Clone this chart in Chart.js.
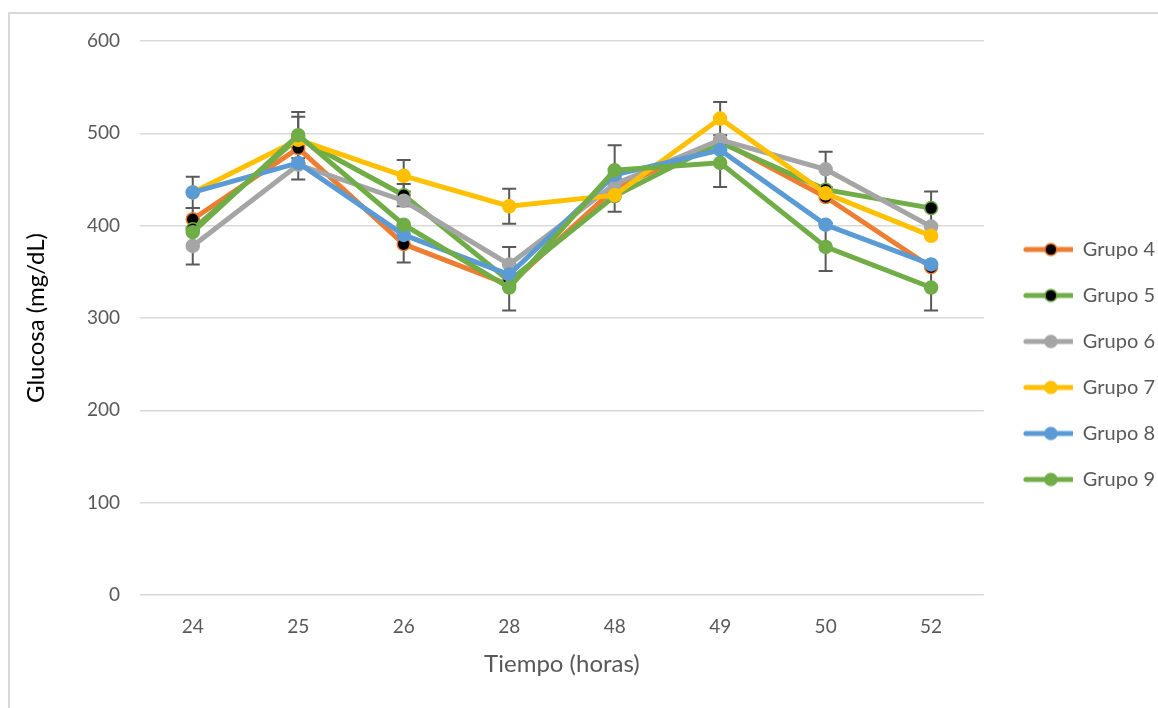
<!DOCTYPE html>
<html>
<head>
<meta charset="utf-8">
<script src="https://cdn.jsdelivr.net/npm/chart.js@4"></script>
<style>
  body { margin: 0; background: #fff; overflow: hidden; }
  #frame { position: absolute; left: 8px; top: 12px; width: 1150px; height: 696px; overflow: hidden;
           border-top: 2px solid #d9d9d9; border-left: 2px solid #d9d9d9; }
  #glucosa { position: absolute; left: 0; top: 0; }
</style>
</head>
<body>
<div id="frame"><canvas id="glucosa" width="1160" height="694"></canvas></div>
<script>
const horas = ["24", "25", "26", "28", "48", "49", "50", "52"];

const grupo4 = [407, 484, 380, 336, 440, 492, 431, 355];
const grupo5 = [396, 495, 433, 340, 432, 490, 439, 419];
const grupo6 = [378, 466, 427, 358, 445, 493, 461, 399];
const grupo7 = [436, 493, 454, 421, 433, 516, 435, 389];
const grupo8 = [436, 468, 390, 347, 455, 482, 401, 358];
const grupo9 = [393, 498, 401, 333, 460, 468, 377, 333];

// desviaciones (0 = sin barra)
const err4 = [12, 0, 20, 0, 0, 0, 0, 0];
const err5 = [0, 0, 12, 0, 0, 0, 0, 18];
const err6 = [20, 0, 0, 19, 0, 0, 19, 0];
const err7 = [0, 25, 17, 19, 18, 18, 0, 0];
const err8 = [17, 18, 0, 0, 0, 0, 0, 0];
const err9 = [0, 25, 0, 25, 27, 26, 26, 25];

const yTicks = [0, 100, 200, 300, 400, 500, 600];

const grey = "#595959";

function legendIcon(color, fill) {
  const c = document.createElement("canvas");
  c.width = 63; c.height = 16;
  const g = c.getContext("2d");
  g.strokeStyle = color; g.lineWidth = 5; g.lineCap = "round";
  g.beginPath(); g.moveTo(16, 8); g.lineTo(62, 8); g.stroke();
  g.beginPath(); g.arc(41, 8, 6, 0, Math.PI * 2);
  g.fillStyle = fill; g.fill();
  g.lineWidth = 1.5; g.strokeStyle = color; g.stroke();
  return c;
}

function serie(label, data, err, color, fill, order) {
  return {
    label: label,
    data: data,
    err: err,
    borderColor: color,
    backgroundColor: color,
    borderWidth: 5,
    pointRadius: 6.5,
    pointHoverRadius: 6.5,
    pointBackgroundColor: fill,
    pointBorderColor: color,
    pointBorderWidth: 1.5,
    pointStyle: "circle",
    icon: legendIcon(color, fill),
    tension: 0,
    order: order,
  };
}

const errorBars = {
  id: "errorBars",
  beforeDatasetsDraw(chart) {
    const ctx = chart.ctx;
    const x = chart.scales.x, y = chart.scales.y;
    ctx.save();
    ctx.strokeStyle = grey;
    ctx.lineWidth = 2;
    chart.data.datasets.forEach(function (ds) {
      ds.data.forEach(function (v, i) {
        const e = ds.err[i];
        if (!e) return;
        const px = x.getPixelForValue(i);
        const top = y.getPixelForValue(v + e);
        const bot = y.getPixelForValue(v - e);
        ctx.beginPath();
        ctx.moveTo(px, top); ctx.lineTo(px, bot);
        ctx.moveTo(px - 7, top); ctx.lineTo(px + 7, top);
        ctx.moveTo(px - 7, bot); ctx.lineTo(px + 7, bot);
        ctx.stroke();
      });
    });
    ctx.restore();
  },
};

Chart.defaults.font.family = "Lato, 'Noto Sans', sans-serif";
Chart.defaults.color = grey;

const data = {
  labels: horas,
  datasets: [
    serie("Grupo 4", grupo4, err4, "#ED7D31", "#000000", 6),
    serie("Grupo 5", grupo5, err5, "#70AD47", "#000000", 5),
    serie("Grupo 6", grupo6, err6, "#A5A5A5", "#A5A5A5", 4),
    serie("Grupo 7", grupo7, err7, "#FFC000", "#FFC000", 3),
    serie("Grupo 8", grupo8, err8, "#5B9BD5", "#5B9BD5", 2),
    serie("Grupo 9", grupo9, err9, "#70AD47", "#70AD47", 1),
  ],
};

const config = {
  type: "line",
  data: data,
  plugins: [errorBars],
  options: {
    responsive: false,
    animation: false,
    layout: { padding: { top: 27, right: 5, bottom: 20, left: 0 } },
    plugins: {
      tooltip: { enabled: false },
      legend: {
        position: "right",
        labels: {
          usePointStyle: true,
          pointStyleWidth: 63,
          padding: 26,
          color: grey,
          font: { size: 20 },
          sort: function (a, b) { return a.datasetIndex - b.datasetIndex; },
          generateLabels: function (chart) {
            return chart.data.datasets.map(function (ds, i) {
              return {
                text: ds.label,
                pointStyle: ds.icon,
                fillStyle: ds.borderColor,
                strokeStyle: ds.borderColor,
                lineWidth: 0,
                fontColor: grey,
                hidden: false,
                datasetIndex: i,
              };
            });
          },
        },
      },
    },
    scales: {
      x: {
        offset: true,
        grid: { display: false, drawTicks: false },
        border: { display: false },
        ticks: { padding: 20, color: grey, font: { size: 19 } },
        title: {
          display: true,
          text: "Tiempo (horas)",
          color: grey,
          font: { size: 24 },
          padding: { top: 0, bottom: 9 },
        },
        afterFit: function (s) { s.height = 93; },
      },
      y: {
        min: 0,
        max: 600,
        afterBuildTicks: function (s) { s.ticks = yTicks.map(function (v) { return { value: v }; }); },
        grid: { color: "#d9d9d9", lineWidth: 1.5, drawTicks: false },
        border: { display: false },
        ticks: { padding: 20, color: grey, font: { size: 19 } },
        title: {
          display: true,
          text: "Glucosa (mg/dL)",
          color: "#000000",
          font: { size: 24 },
          padding: { top: 12, bottom: 0 },
        },
        afterFit: function (s) { s.width = 130; s.paddingTop = 0; s.paddingBottom = 0; },
      },
    },
  },
};

const GlucosaChart = new Chart(document.getElementById("glucosa"), config);
</script>
</body>
</html>
